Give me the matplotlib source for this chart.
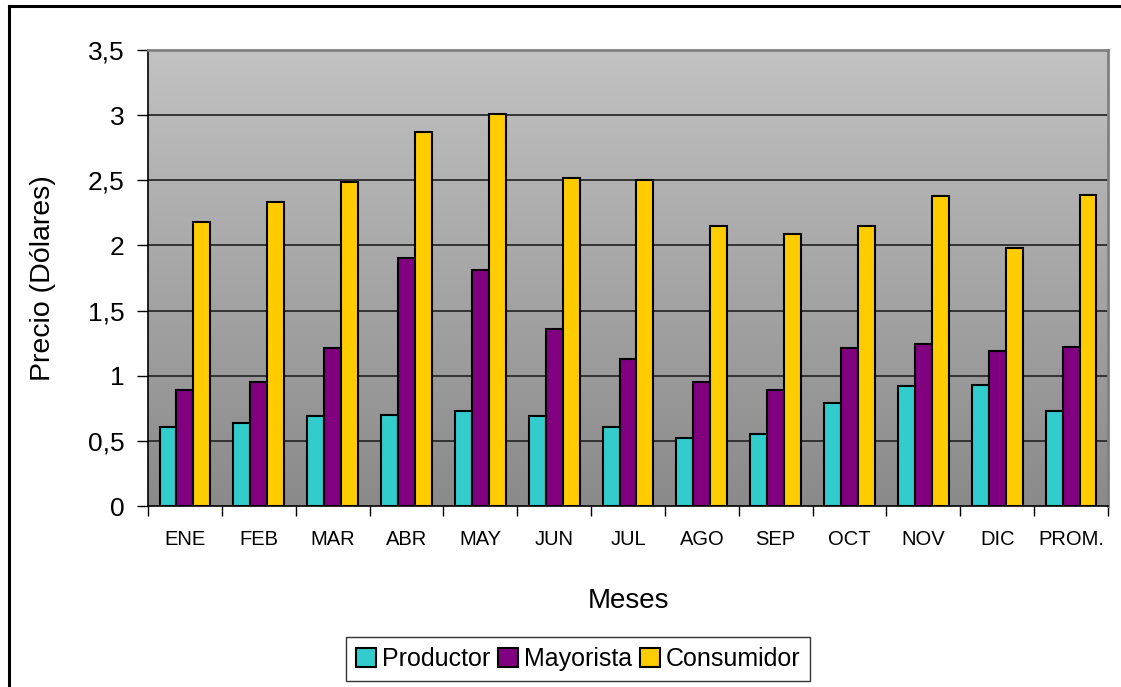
import numpy as np
from matplotlib import pyplot as plt
from matplotlib.lines import Line2D
from matplotlib.ticker import FuncFormatter, FixedLocator


meses = ['ENE', 'FEB', 'MAR', 'ABR', 'MAY', 'JUN', 'JUL', 'AGO', 'SEP',
         'OCT', 'NOV', 'DIC', 'PROM.']
productor = [0.61, 0.64, 0.69, 0.70, 0.73, 0.69, 0.61, 0.52, 0.55,
             0.79, 0.92, 0.93, 0.73]
mayorista = [0.89, 0.95, 1.21, 1.90, 1.81, 1.36, 1.13, 0.95, 0.89,
             1.21, 1.24, 1.19, 1.22]
consumidor = [2.18, 2.33, 2.49, 2.87, 3.01, 2.52, 2.50, 2.15, 2.09,
              2.15, 2.38, 1.98, 2.39]

series = [('Productor', productor, '#33CCCC'),
          ('Mayorista', mayorista, '#800080'),
          ('Consumidor', consumidor, '#FFCC00')]


def coma(v, pos):
    return ('%g' % v).replace('.', ',')


if __name__ == '__main__':
    plt.rcParams['font.family'] = ['Liberation Sans', 'DejaVu Sans']
    fig = plt.figure(figsize=(11.21, 6.87), dpi=100)
    ax = fig.add_axes([148 / 1121, 1 - 506 / 687, 960 / 1121, 456 / 687])

    n = len(meses)
    x = np.arange(n)
    w = 0.229

    # fondo degradado como en excel
    grad = np.linspace(0, 1, 256).reshape(-1, 1)
    ax.imshow(grad, extent=[-0.5, n - 0.5, 0, 3.5], aspect='auto',
              cmap=plt.matplotlib.colors.LinearSegmentedColormap.from_list(
                  'g', ['#8A8A8A', '#C2C2C2']),
              origin='lower', zorder=0)

    for y in np.arange(0.5, 3.5, 0.5):
        ax.axhline(y, color='#2a2a2a', lw=1.3, zorder=1)

    for i, (nombre, vals, col) in enumerate(series):
        ax.bar(x + (i - 1) * w, vals, width=w, color=col, edgecolor='black',
               linewidth=1.5, label=nombre, zorder=2)

    ax.set_xlim(-0.5, n - 0.5)
    ax.set_ylim(0, 3.5)
    ax.set_yticks(np.arange(0, 3.51, 0.5))
    ax.yaxis.set_major_formatter(FuncFormatter(coma))
    ax.tick_params(axis='y', labelsize=19, length=8, width=1, pad=9,
                   direction='out')

    # ticks entre categorias, etiquetas al centro
    ax.xaxis.set_major_locator(FixedLocator(np.arange(-0.5, n, 1.0)))
    ax.xaxis.set_minor_locator(FixedLocator(x))
    ax.set_xticklabels([], minor=False)
    ax.set_xticklabels(meses, minor=True)
    ax.tick_params(axis='x', which='major', length=7, width=1,
                   direction='out')
    ax.tick_params(axis='x', which='minor', length=0, labelsize=14.5, pad=17)

    for s in ['top', 'right']:
        ax.spines[s].set_color('#808080')
        ax.spines[s].set_linewidth(2)
    for s in ['left', 'bottom']:
        ax.spines[s].set_color('black')
        ax.spines[s].set_linewidth(1.2)

    ax.set_xlabel('Meses', fontsize=20)
    ax.xaxis.set_label_coords(0.5, -0.18)
    ax.set_ylabel('Precio (Dólares)', fontsize=20.5)
    ax.yaxis.set_label_coords(-0.096, 0.5)

    leg = fig.legend(loc='center', bbox_to_anchor=(578 / 1121, 1 - 659 / 687),
                     ncol=3, fontsize=18, frameon=True, fancybox=False,
                     handlelength=0.8, handleheight=0.8, handletextpad=0.25,
                     columnspacing=0.3, borderpad=0.4, borderaxespad=0)
    leg.get_frame().set_edgecolor('black')
    leg.get_frame().set_linewidth(1)
    for h in leg.legend_handles:
        h.set_linewidth(1.5)

    # marco exterior
    fig.add_artist(Line2D([9 / 1121, 9 / 1121], [-0.1, 1 - 6 / 687],
                          color='black', lw=2.2, transform=fig.transFigure))
    fig.add_artist(Line2D([9 / 1121, 1.1], [1 - 6 / 687, 1 - 6 / 687],
                          color='black', lw=2.2, transform=fig.transFigure))

    fig.savefig('out.png', dpi=100)
